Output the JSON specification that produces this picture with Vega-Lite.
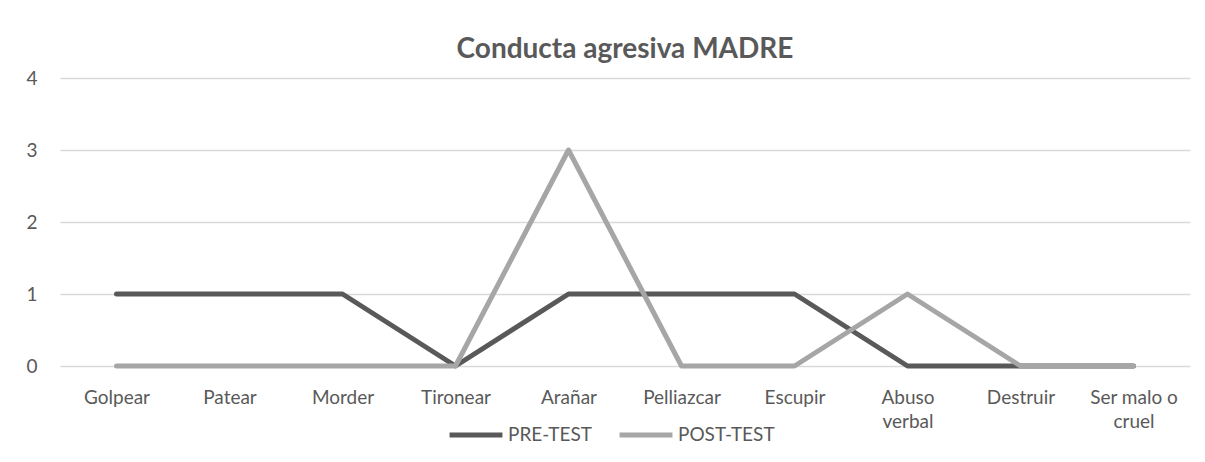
{
  "$schema": "https://vega.github.io/schema/vega-lite/v6.json",
  "width": 1130,
  "height": 288,
  "autosize": {"type": "none"},
  "padding": {"left": 60, "top": 78, "right": 15, "bottom": 96},
  "background": "white",
  "title": {
    "text": "Conducta agresiva MADRE",
    "font": "Lato",
    "fontSize": 28,
    "fontWeight": "bold",
    "color": "#595959",
    "anchor": "middle",
    "offset": 5
  },
  "config": {
    "view": {"stroke": null},
    "font": "Lato"
  },
  "data": {
    "values": [
      {"conducta": "Golpear", "serie": "PRE-TEST", "valor": 1},
      {"conducta": "Patear", "serie": "PRE-TEST", "valor": 1},
      {"conducta": "Morder", "serie": "PRE-TEST", "valor": 1},
      {"conducta": "Tironear", "serie": "PRE-TEST", "valor": 0},
      {"conducta": "Arañar", "serie": "PRE-TEST", "valor": 1},
      {"conducta": "Pelliazcar", "serie": "PRE-TEST", "valor": 1},
      {"conducta": "Escupir", "serie": "PRE-TEST", "valor": 1},
      {"conducta": "Abuso verbal", "serie": "PRE-TEST", "valor": 0},
      {"conducta": "Destruir", "serie": "PRE-TEST", "valor": 0},
      {"conducta": "Ser malo o cruel", "serie": "PRE-TEST", "valor": 0},
      {"conducta": "Golpear", "serie": "POST-TEST", "valor": 0},
      {"conducta": "Patear", "serie": "POST-TEST", "valor": 0},
      {"conducta": "Morder", "serie": "POST-TEST", "valor": 0},
      {"conducta": "Tironear", "serie": "POST-TEST", "valor": 0},
      {"conducta": "Arañar", "serie": "POST-TEST", "valor": 3},
      {"conducta": "Pelliazcar", "serie": "POST-TEST", "valor": 0},
      {"conducta": "Escupir", "serie": "POST-TEST", "valor": 0},
      {"conducta": "Abuso verbal", "serie": "POST-TEST", "valor": 1},
      {"conducta": "Destruir", "serie": "POST-TEST", "valor": 0},
      {"conducta": "Ser malo o cruel", "serie": "POST-TEST", "valor": 0}
    ]
  },
  "mark": {"type": "line", "strokeWidth": 5, "strokeCap": "round", "strokeJoin": "round"},
  "encoding": {
    "x": {
      "field": "conducta",
      "type": "nominal",
      "sort": null,
      "scale": {"paddingInner": 0, "paddingOuter": 0.5},
      "axis": {
        "title": null,
        "labelAngle": 0,
        "domain": false,
        "ticks": false,
        "grid": false,
        "labelFontSize": 19,
        "labelColor": "#595959",
        "labelPadding": 22,
        "labelLineHeight": 24,
        "labelExpr": "datum.label == 'Abuso verbal' ? ['Abuso', 'verbal'] : datum.label == 'Ser malo o cruel' ? ['Ser malo o', 'cruel'] : datum.label"
      }
    },
    "y": {
      "field": "valor",
      "type": "quantitative",
      "scale": {"domain": [0, 4]},
      "axis": {
        "title": null,
        "tickCount": 4,
        "domain": false,
        "ticks": false,
        "gridColor": "#D9D9D9",
        "gridWidth": 1.5,
        "labelFontSize": 19,
        "labelColor": "#595959",
        "labelPadding": 23
      }
    },
    "color": {
      "field": "serie",
      "type": "nominal",
      "sort": ["PRE-TEST", "POST-TEST"],
      "scale": {"domain": ["PRE-TEST", "POST-TEST"], "range": ["#595959", "#A6A6A6"]},
      "legend": {
        "title": null,
        "orient": "none",
        "legendX": 387,
        "legendY": 328,
        "direction": "horizontal",
        "symbolType": "stroke",
        "symbolSize": 2800,
        "symbolStrokeWidth": 5,
        "labelFontSize": 19,
        "labelColor": "#595959",
        "labelOffset": 3,
        "columnPadding": 17
      }
    }
  }
}
